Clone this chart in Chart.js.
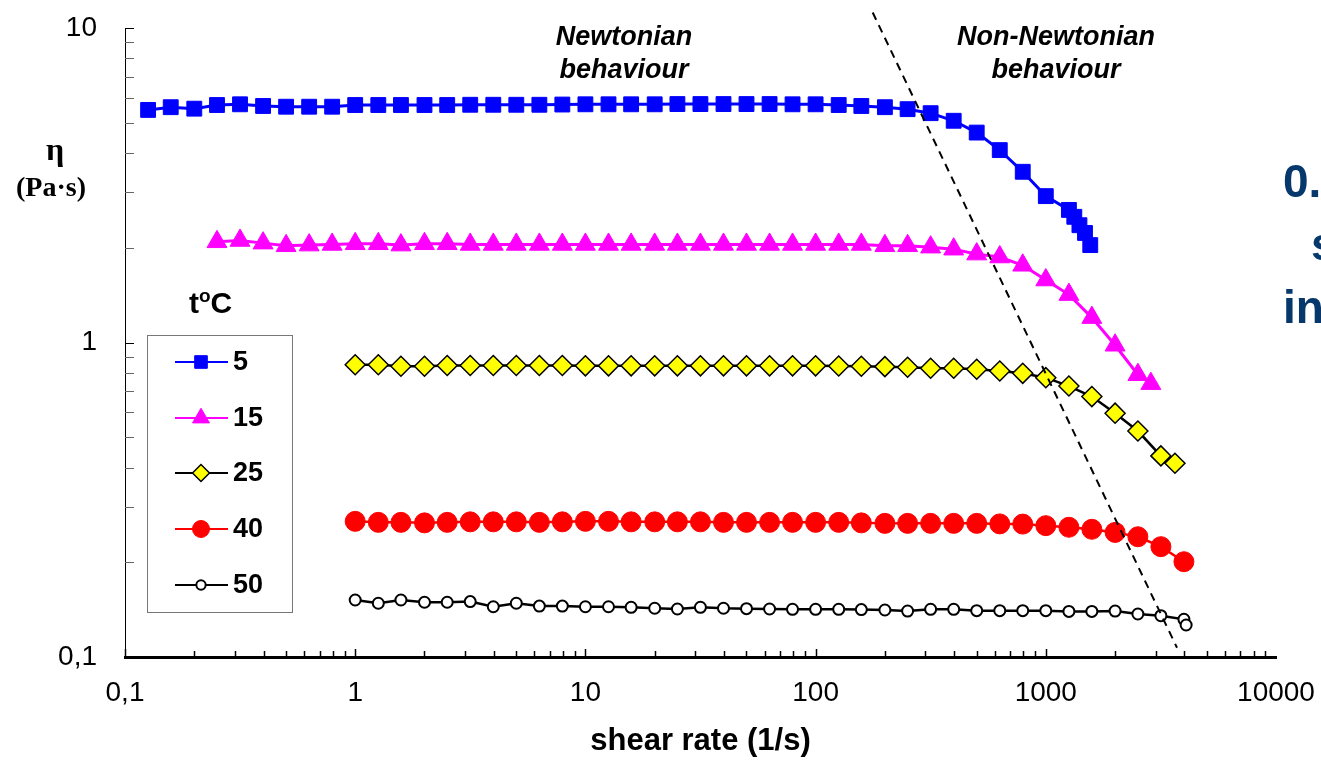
<!DOCTYPE html>
<html>
<head>
<meta charset="utf-8">
<title>Viscosity vs shear rate</title>
<script src="https://cdn.jsdelivr.net/npm/chart.js"></script>
<style>
  html, body { margin: 0; padding: 0; background: #fff; overflow: hidden; }
  canvas { display: block; }
</style>
</head>
<body>
<canvas id="viscosityChart" width="1321" height="762"></canvas>
<script>
// tick labels (comma decimal, as in the original)
const xTickValues = [0.1, 1, 10, 100, 1000, 10000];
const xTickLabels = ['0,1', '1', '10', '100', '1000', '10000'];
const yTickValues = [0.1, 1, 10];
const yTickLabels = ['0,1', '1', '10'];

const seriesNames = ['5', '15', '25', '40', '50'];

// 5 °C
const shear5 = [0.126, 0.158, 0.2, 0.251, 0.316, 0.398, 0.501, 0.631, 0.794,
  1, 1.26, 1.58, 2, 2.51, 3.16, 3.98, 5.01, 6.31, 7.94,
  10, 12.6, 15.8, 20, 25.1, 31.6, 39.8, 50.1, 63.1, 79.4,
  100, 126, 158, 200, 251, 316, 398, 501, 631, 794,
  1000, 1260, 1330, 1400, 1480, 1560];
const eta5 = [5.49, 5.60, 5.54, 5.69, 5.72, 5.65, 5.62, 5.62, 5.62,
  5.69, 5.69, 5.69, 5.69, 5.69, 5.70, 5.70, 5.70, 5.70, 5.71,
  5.72, 5.72, 5.72, 5.72, 5.73, 5.73, 5.73, 5.73, 5.73, 5.72,
  5.72, 5.69, 5.65, 5.60, 5.52, 5.36, 5.07, 4.65, 4.09, 3.49,
  2.92, 2.64, 2.51, 2.36, 2.23, 2.04];

// 15 °C
const shear15 = [0.251, 0.316, 0.398, 0.501, 0.631, 0.794,
  1, 1.26, 1.58, 2, 2.51, 3.16, 3.98, 5.01, 6.31, 7.94,
  10, 12.6, 15.8, 20, 25.1, 31.6, 39.8, 50.1, 63.1, 79.4,
  100, 126, 158, 200, 251, 316, 398, 501, 631, 794,
  1000, 1260, 1585, 2000, 2512, 2860];
const eta15 = [2.09, 2.11, 2.07, 2.03, 2.04, 2.05,
  2.06, 2.06, 2.04, 2.06, 2.06, 2.05, 2.05, 2.05, 2.05, 2.05,
  2.05, 2.05, 2.05, 2.05, 2.05, 2.05, 2.05, 2.05, 2.05, 2.05,
  2.05, 2.05, 2.05, 2.03, 2.03, 2.01, 1.98, 1.91, 1.87, 1.76,
  1.58, 1.42, 1.20, 0.98, 0.79, 0.74];

// 25 °C
const shear25 = [1, 1.26, 1.58, 2, 2.51, 3.16, 3.98, 5.01, 6.31, 7.94,
  10, 12.6, 15.8, 20, 25.1, 31.6, 39.8, 50.1, 63.1, 79.4,
  100, 126, 158, 200, 251, 316, 398, 501, 631, 794,
  1000, 1260, 1585, 2000, 2512, 3162, 3640];
const eta25 = [0.85, 0.85, 0.84, 0.84, 0.845, 0.845, 0.845, 0.845, 0.845, 0.845,
  0.843, 0.843, 0.843, 0.843, 0.843, 0.843, 0.843, 0.843, 0.843, 0.843,
  0.843, 0.842, 0.840, 0.838, 0.834, 0.828, 0.828, 0.822, 0.812, 0.798,
  0.773, 0.727, 0.673, 0.596, 0.523, 0.436, 0.413];

// 40 °C
const shear40 = [1, 1.26, 1.58, 2, 2.51, 3.16, 3.98, 5.01, 6.31, 7.94,
  10, 12.6, 15.8, 20, 25.1, 31.6, 39.8, 50.1, 63.1, 79.4,
  100, 126, 158, 200, 251, 316, 398, 501, 631, 794,
  1000, 1260, 1585, 2000, 2512, 3162, 3981];
const eta40 = [0.270, 0.268, 0.268, 0.267, 0.268, 0.269, 0.269, 0.269, 0.268, 0.269,
  0.270, 0.270, 0.269, 0.269, 0.269, 0.269, 0.268, 0.268, 0.268, 0.268,
  0.268, 0.268, 0.267, 0.266, 0.266, 0.266, 0.266, 0.266, 0.265, 0.2646,
  0.2616, 0.2585, 0.2547, 0.249, 0.2412, 0.2243, 0.2009];

// 50 °C
const shear50 = [1, 1.26, 1.58, 2, 2.51, 3.16, 3.98, 5.01, 6.31, 7.94,
  10, 12.6, 15.8, 20, 25.1, 31.6, 39.8, 50.1, 63.1, 79.4,
  100, 126, 158, 200, 251, 316, 398, 501, 631, 794,
  1000, 1260, 1585, 2000, 2512, 3162, 3981, 4070];
const eta50 = [0.1518, 0.1482, 0.1518, 0.1493, 0.1493, 0.1500, 0.1445, 0.1482, 0.1452, 0.1452,
  0.1445, 0.1445, 0.1439, 0.1429, 0.1421, 0.1439, 0.1429, 0.1425, 0.1421, 0.1418,
  0.1418, 0.1418, 0.1415, 0.1411, 0.1400, 0.1418, 0.1418, 0.1404, 0.1404, 0.1404,
  0.1404, 0.1396, 0.1396, 0.1400, 0.1370, 0.1353, 0.1318, 0.1264];

// Newtonian / non-Newtonian boundary (dashed)
const boundaryX = [177, 3715];
const boundaryY = [11.2, 0.107];

function pairs(xs, ys) {
    return xs.map((x, i) => ({ x: x, y: ys[i] }));
}

const SANS = "'Liberation Sans', Arial, sans-serif";
const SERIF = "'Liberation Serif', 'Times New Roman', serif";

// Function to draw a marker the same way Chart.js does
function marker(ctx, ds, x, y, scale) {
    ctx.save();
    ctx.fillStyle = ds.pointBackgroundColor;
    ctx.strokeStyle = ds.pointBorderColor;
    ctx.lineWidth = ds.pointBorderWidth;
    Chart.helpers.drawPoint(ctx, {
        pointStyle: ds.pointStyle,
        radius: ds.pointRadius * scale,
        rotation: 0,
        borderWidth: ds.pointBorderWidth
    }, x, y);
    ctx.restore();
}

// keep the plot area exactly where the original has it
function noScalePadding(scale) {
    scale.paddingTop = 0;
    scale.paddingBottom = 0;
    scale.paddingLeft = 0;
    scale.paddingRight = 0;
}

const extrasPlugin = {
    id: 'extras',
    afterDraw(chart) {
        const ctx = chart.ctx;
        const xs = chart.scales.x;
        const ys = chart.scales.y;
        const area = chart.chartArea;
        ctx.save();

        // inward ticks on the x axis
        ctx.strokeStyle = '#000';
        ctx.lineWidth = 1.5;
        for (let e = -1; e < 4; e++) {
            for (let k = 1; k < 10; k++) {
                const px = Math.round(xs.getPixelForValue(k * Math.pow(10, e))) + 0.5;
                ctx.beginPath();
                ctx.moveTo(px, area.bottom);
                ctx.lineTo(px, area.bottom - (k === 1 ? 8 : 6));
                ctx.stroke();
            }
        }
        // inward ticks on the y axis
        ctx.lineWidth = 1;
        for (let e = -1; e < 2; e++) {
            for (let k = 1; k < 10; k++) {
                const v = k * Math.pow(10, e);
                if (v > 10) break;
                const py = Math.round(ys.getPixelForValue(v)) + 0.5;
                ctx.strokeStyle = k === 1 ? '#000' : '#666';
                ctx.beginPath();
                ctx.moveTo(area.left, py);
                ctx.lineTo(area.left + 9, py);
                ctx.stroke();
            }
        }

        // y axis label
        ctx.fillStyle = '#000';
        ctx.textAlign = 'center';
        ctx.textBaseline = 'middle';
        ctx.font = 'bold 32px ' + SERIF;
        ctx.fillText('η', 55, 152);
        ctx.font = 'bold 28px ' + SERIF;
        ctx.fillText('(Pa·s)', 51, 189);

        // region notes
        ctx.font = 'italic bold 27px ' + SANS;
        ctx.fillText('Newtonian', 624, 38);
        ctx.fillText('behaviour', 624, 71);
        ctx.fillText('Non-Newtonian', 1056, 38);
        ctx.fillText('behaviour', 1056, 71);

        // legend title t°C
        ctx.textAlign = 'left';
        ctx.textBaseline = 'alphabetic';
        ctx.font = 'bold 30px ' + SANS;
        ctx.fillText('t', 189, 313);
        const tw = ctx.measureText('t').width;
        ctx.font = 'bold 19px ' + SANS;
        ctx.fillText('o', 189 + tw, 302);
        const ow = ctx.measureText('o').width;
        ctx.font = 'bold 30px ' + SANS;
        ctx.fillText('C', 189 + tw + ow, 313);

        // legend box
        ctx.strokeStyle = '#777';
        ctx.lineWidth = 1;
        ctx.strokeRect(147.5, 335.5, 145, 277);
        const rowY = [362, 418, 473, 529, 585];
        ctx.font = 'bold 27px ' + SANS;
        ctx.textBaseline = 'middle';
        seriesNames.forEach((name, i) => {
            const ds = chart.data.datasets[i + 1];
            ctx.strokeStyle = ds.borderColor;
            ctx.lineWidth = 2;
            ctx.beginPath();
            ctx.moveTo(175, rowY[i]);
            ctx.lineTo(228, rowY[i]);
            ctx.stroke();
            marker(ctx, ds, 201, rowY[i], 0.85);
            ctx.fillStyle = '#000';
            ctx.fillText(name, 233, rowY[i] + 1);
        });

        // text of the slide that is cut off at the right edge
        ctx.fillStyle = '#06386b';
        ctx.font = 'bold 46px ' + SANS;
        ctx.textBaseline = 'alphabetic';
        ctx.fillText('0.', 1283, 197);
        ctx.fillText('s', 1311, 260);
        ctx.fillText('in', 1283, 323);

        ctx.restore();
    }
};

const ctx = document.getElementById('viscosityChart').getContext('2d');

new Chart(ctx, {
    type: 'line',
    data: {
        datasets: [
            {
                label: 'boundary',
                data: pairs(boundaryX, boundaryY),
                borderColor: '#000',
                borderWidth: 2,
                borderDash: [8, 6],
                pointRadius: 0,
                clip: false
            },
            {
                label: seriesNames[0],
                data: pairs(shear5, eta5),
                borderColor: '#0000ff',
                borderWidth: 3,
                pointStyle: 'rect',
                pointRadius: 10.5,
                pointBackgroundColor: '#0000ff',
                pointBorderColor: '#0000ff',
                pointBorderWidth: 1
            },
            {
                label: seriesNames[1],
                data: pairs(shear15, eta15),
                borderColor: '#ff00ff',
                borderWidth: 3,
                pointStyle: 'triangle',
                pointRadius: 11.5,
                pointBackgroundColor: '#ff00ff',
                pointBorderColor: '#ff00ff',
                pointBorderWidth: 1
            },
            {
                label: seriesNames[2],
                data: pairs(shear25, eta25),
                borderColor: '#000',
                borderWidth: 2.5,
                pointStyle: 'rectRot',
                pointRadius: 10,
                pointBackgroundColor: '#ffff00',
                pointBorderColor: '#000',
                pointBorderWidth: 1.5
            },
            {
                label: seriesNames[3],
                data: pairs(shear40, eta40),
                borderColor: '#ff0000',
                borderWidth: 2.5,
                pointStyle: 'circle',
                pointRadius: 10,
                pointBackgroundColor: '#ff0000',
                pointBorderColor: '#ff0000',
                pointBorderWidth: 1
            },
            {
                label: seriesNames[4],
                data: pairs(shear50, eta50),
                borderColor: '#000',
                borderWidth: 2.5,
                pointStyle: 'circle',
                pointRadius: 5.5,
                pointBackgroundColor: '#fff',
                pointBorderColor: '#000',
                pointBorderWidth: 2
            }
        ]
    },
    options: {
        responsive: false,
        animation: false,
        devicePixelRatio: 1,
        layout: { padding: { top: 28, right: 45, left: 0, bottom: 0 } },
        plugins: {
            legend: { display: false },
            tooltip: { enabled: false }
        },
        scales: {
            x: {
                type: 'logarithmic',
                min: 0.1,
                max: 10000,
                afterBuildTicks: scale => { scale.ticks = xTickValues.map(v => ({ value: v })); },
                afterFit: scale => { scale.height = 105; noScalePadding(scale); },
                grid: { display: false, drawTicks: false },
                border: { display: true, color: '#000', width: 3 },
                ticks: {
                    autoSkip: false,
                    maxRotation: 0,
                    padding: 19,
                    color: '#000',
                    font: { family: SANS, size: 28 },
                    callback: (value, index) => xTickLabels[index]
                },
                title: {
                    display: true,
                    text: 'shear rate (1/s)',
                    color: '#000',
                    font: { family: SANS, size: 31, weight: 'bold' },
                    padding: { top: 0, bottom: 2 }
                }
            },
            y: {
                type: 'logarithmic',
                min: 0.1,
                max: 10,
                afterBuildTicks: scale => { scale.ticks = yTickValues.map(v => ({ value: v })); },
                afterFit: scale => { scale.width = 125; noScalePadding(scale); },
                grid: { display: false, drawTicks: false },
                border: { display: true, color: '#000', width: 1 },
                ticks: {
                    autoSkip: false,
                    padding: 28,
                    color: '#000',
                    font: { family: SANS, size: 28 },
                    callback: (value, index) => yTickLabels[index]
                }
            }
        }
    },
    plugins: [extrasPlugin]
});
</script>
</body>
</html>
